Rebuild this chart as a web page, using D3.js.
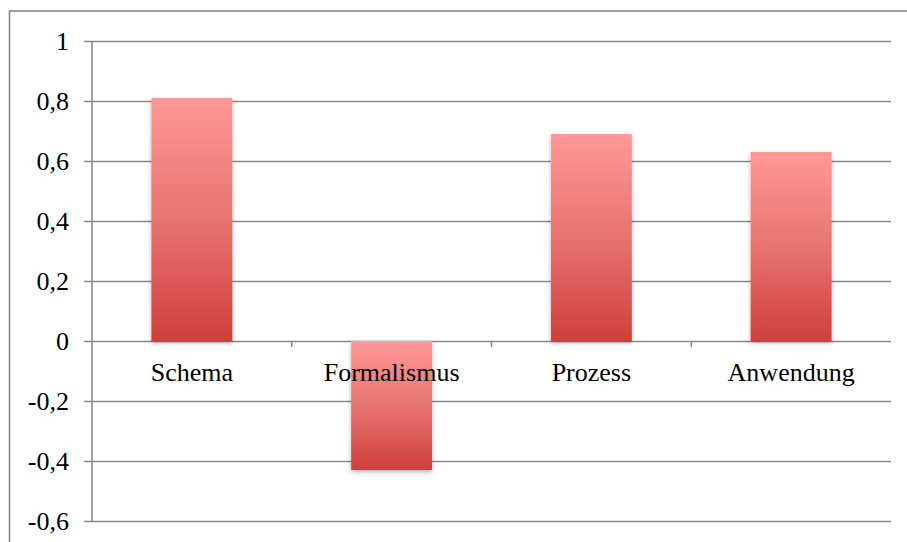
<!DOCTYPE html>
<html>
<head>
<meta charset="utf-8">
<script src="https://cdn.jsdelivr.net/npm/d3@7/dist/d3.min.js"></script>
<style>
  html, body { margin: 0; padding: 0; background: #fff; }
  svg { display: block; }
  svg text { font-family: "Liberation Serif", "Times New Roman", serif; }
</style>
</head>
<body>
<script>
// Chart data
const categories = ["Schema", "Formalismus", "Prozess", "Anwendung"];
const values = [0.81, -0.43, 0.69, 0.63];
const yTicks = [-0.6, -0.4, -0.2, 0, 0.2, 0.4, 0.6, 0.8, 1];

const W = 907, H = 542;
const serif = "'Liberation Serif', 'Times New Roman', serif";
const svg = d3.select("body").append("svg").attr("width", W).attr("height", H);

const defs = svg.append("defs");
const grad = defs.append("linearGradient")
  .attr("id", "barGrad").attr("x1", 0).attr("y1", 0).attr("x2", 0).attr("y2", 1);
grad.append("stop").attr("offset", "0%").attr("stop-color", "#ff9898");
grad.append("stop").attr("offset", "50%").attr("stop-color", "#e77471");
grad.append("stop").attr("offset", "100%").attr("stop-color", "#cf3f3c");

const shadow = defs.append("filter").attr("id", "barShadow")
  .attr("x", "-20%").attr("y", "-10%").attr("width", "140%").attr("height", "130%");
shadow.append("feDropShadow").attr("dx", 0).attr("dy", 2)
  .attr("stdDeviation", 2.2).attr("flood-color", "#000").attr("flood-opacity", 0.3);

// Outer frame
svg.append("rect")
  .attr("x", 9.5).attr("y", 11).attr("width", 1000).attr("height", 1000)
  .attr("fill", "none").attr("stroke", "#888").attr("stroke-width", 1.6);

const plotLeft = 92, plotRight = 891, plotTop = 41, plotBottom = 521;

const y = d3.scaleLinear().domain([-0.6, 1]).range([plotBottom, plotTop]);
const x = d3.scaleBand().domain(categories).range([plotLeft, plotRight])
  .paddingInner(0.595).paddingOuter(0.2975);

// Decimal comma with a plain hyphen for negatives
const fmt = d => {
  const v = Math.round(d * 10) / 10;
  return (v < 0 ? "-" : "") + String(Math.abs(v)).replace(".", ",");
};

// Horizontal gridlines with tick labels
const yAxis = d3.axisLeft(y).tickValues(yTicks)
  .tickSize(-(plotRight - plotLeft)).tickPadding(15).tickFormat(fmt);
const gy = svg.append("g").attr("transform", `translate(${plotLeft},0)`).call(yAxis)
  .attr("font-family", serif).attr("font-size", 26);
gy.select(".domain").remove();
gy.selectAll(".tick line").attr("stroke", "#888").attr("stroke-width", 1.6)
  .attr("x1", -8);
gy.selectAll(".tick text")
  .style("font-family", serif).style("font-size", "26px")
  .attr("fill", "#000").attr("x", -23).attr("dy", "0.33em");

// Vertical axis line
svg.append("line")
  .attr("x1", plotLeft).attr("x2", plotLeft).attr("y1", plotTop).attr("y2", plotBottom)
  .attr("stroke", "#888").attr("stroke-width", 1.6);

// Bars
svg.append("g").selectAll("rect").data(values).join("rect")
  .attr("x", (d, i) => x(categories[i]))
  .attr("width", x.bandwidth())
  .attr("y", d => y(Math.max(0, d)))
  .attr("height", d => Math.abs(y(d) - y(0)))
  .attr("fill", "url(#barGrad)")
  .attr("filter", "url(#barShadow)");

// Category axis on the zero line
const xAxis = d3.axisBottom(x).tickSize(0).tickPadding(0);
const gx = svg.append("g").attr("transform", `translate(0,${y(0)})`).call(xAxis)
  .attr("font-family", serif).attr("font-size", 26);
gx.select(".domain").remove();
gx.selectAll(".tick text")
  .style("font-family", serif).style("font-size", "26px")
  .attr("fill", "#000").attr("y", 40).attr("dy", 0);

// Boundary ticks between categories
const step = x.step();
const bounds = d3.range(1, categories.length).map(i => plotLeft + i * step);
svg.append("g").selectAll("line").data(bounds).join("line")
  .attr("x1", d => d).attr("x2", d => d)
  .attr("y1", y(0)).attr("y2", y(0) + 6)
  .attr("stroke", "#888").attr("stroke-width", 1.6);
</script>
</body>
</html>
